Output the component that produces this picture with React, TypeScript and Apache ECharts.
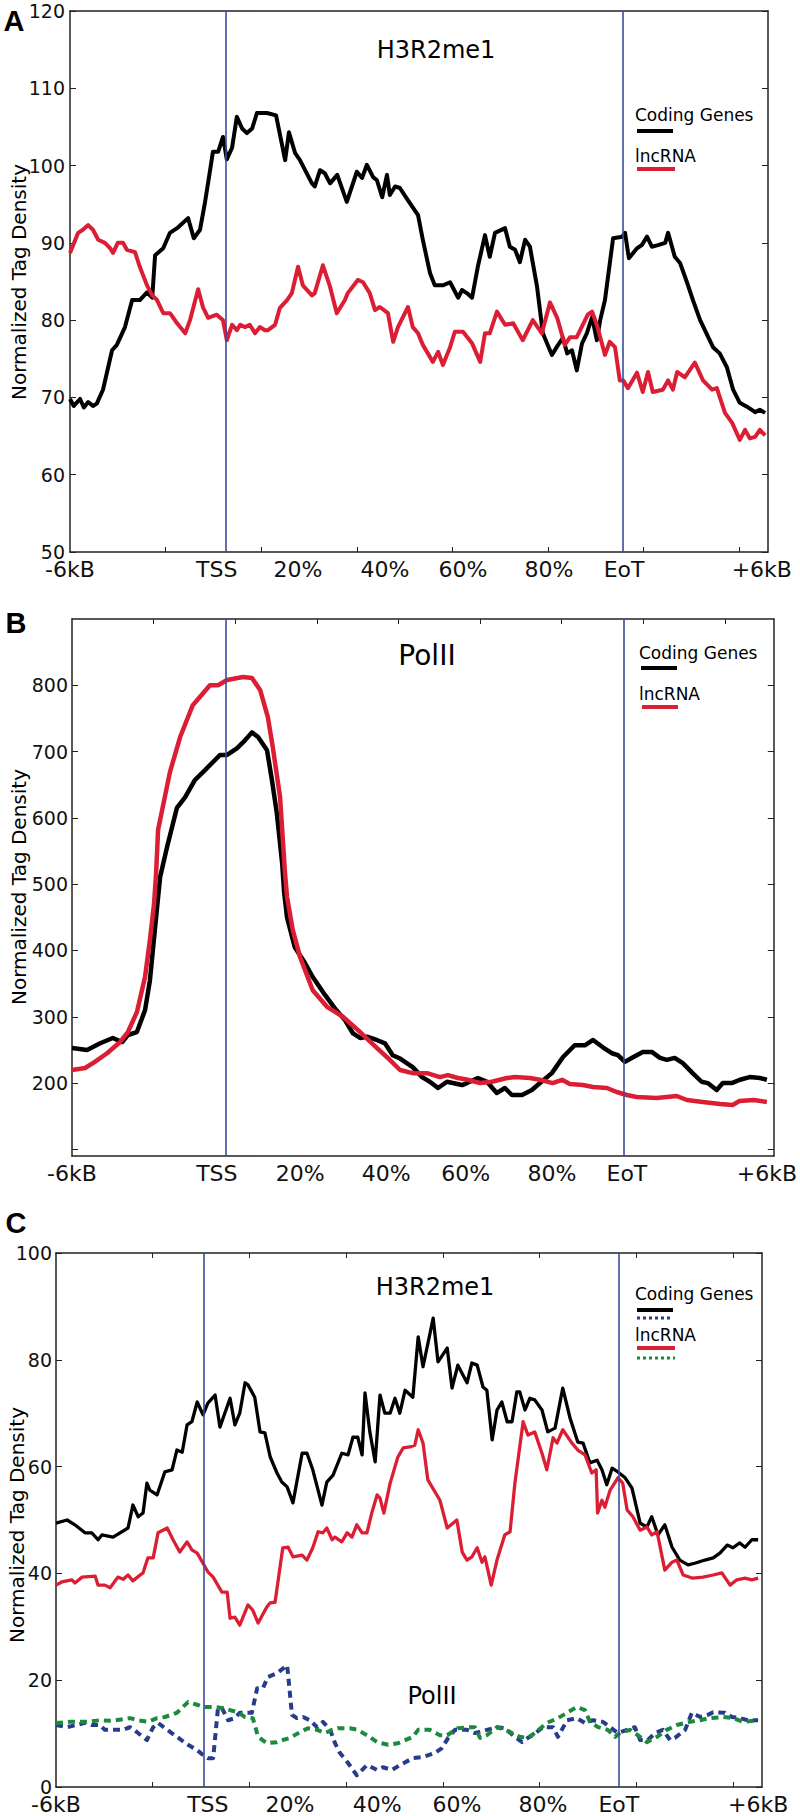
import React, { useEffect, useRef } from 'react';
import * as echarts from 'echarts';

// ---------- shared axis text ----------
const xLabelTexts = ['-6kB', 'TSS', '20%', '40%', '60%', '80%', 'EoT', '+6kB'];

// ---------- Panel A : H3R2me1 ----------
const aXMax = 146;
const aYMin = 50;
const aYMax = 120;
const aYTicks = [50, 60, 70, 80, 90, 100, 110, 120];
const aXTicks = [20, 40, 60, 80, 100, 120, 140];
const aLabelPos = [0, 30.7, 47.7, 65.9, 82.2, 100.2, 115.9, 144.7];
const aMarkers = [32.6, 115.7];
const aCoding = [
  [0, 69.8], [0.8, 68.9], [2.1, 69.8], [2.9, 68.7], [3.8, 69.4], [4.8, 68.9], [5.6, 69.2], [6.9, 71], [8.8, 76.1], [9.8, 76.8],
  [11.5, 79.1], [13.0, 82.6], [14.6, 82.6], [16.1, 83.6], [17.2, 82.9], [17.8, 88.4], [19.5, 89.3], [20.9, 91.3], [22.4, 91.9], [24.7, 93.2],
  [25.9, 90.6], [27.2, 91.7], [28.2, 95.1], [29.3, 99.4], [29.9, 101.8], [31.0, 101.8], [32.0, 103.7], [32.8, 100.8], [33.9, 102.3], [34.9, 106.3],
  [36.0, 104.8], [37.0, 104.2], [38.1, 104.8], [39.1, 106.8], [41.2, 106.8], [43.1, 106.5], [45.0, 100.7], [45.8, 104.3], [47.1, 101.6], [48.1, 100.7],
  [50.6, 97.7], [51.2, 97.3], [52.3, 99.4], [53.3, 99.0], [54.4, 97.7], [55.9, 98.8], [57.9, 95.3], [60.0, 99.2], [61.1, 98.4], [62.1, 100.1],
  [63.4, 98.5], [64.2, 98.1], [65.3, 95.9], [66.3, 98.8], [66.9, 96.2], [68.0, 97.3], [69.0, 97.1], [70.7, 95.5], [72.8, 93.6], [73.8, 90.4],
  [75.3, 86.1], [76.3, 84.5], [78.0, 84.5], [79.5, 84.9], [81.2, 82.9], [82.0, 83.9], [83.0, 83.5], [84.1, 82.9], [85.3, 86.9], [86.8, 91],
  [87.8, 88.2], [88.9, 91.3], [91.0, 91.9], [92.0, 89.5], [93.1, 89.1], [94.1, 87.5], [95.2, 90.4], [96.2, 89.5], [97.7, 84.3], [98.9, 78.3],
  [100.8, 75.5], [102.1, 76.8], [103.1, 77.7], [104.0, 75.7], [105.0, 76.1], [106.0, 73.5], [107.1, 77.0], [108.1, 78.3], [109.2, 80.4], [110.2, 77.4],
  [110.9, 80.0], [111.9, 82.6], [113.6, 90.6], [115.5, 90.8], [116.1, 91.3], [116.9, 88], [118.6, 89.3], [119.6, 89.7], [120.7, 90.8], [121.7, 89.5],
  [123.0, 89.7], [124.5, 90], [125.1, 91.3], [126.5, 88.2], [127.6, 87.4], [129.1, 84.8], [130.3, 82.6], [131.8, 80], [134.5, 76.5], [135.9, 75.7],
  [137.4, 73.9], [138.7, 71], [140.1, 69.3], [141.6, 68.8], [143.3, 68.1], [144.3, 68.4], [145.4, 68],
];
const aLnc = [
  [0, 88.7], [1.7, 91.3], [2.7, 91.7], [3.8, 92.3], [4.8, 91.7], [5.9, 90.4], [7.3, 90.0], [8.4, 89.3], [9.0, 88.7], [10.0, 90.0],
  [11.1, 90.0], [11.9, 89.1], [13.6, 88.8], [14.6, 86.9], [16.1, 84.5], [17.2, 83.2], [18.2, 82.6], [19.5, 80.9], [20.9, 80.9], [22.4, 79.6],
  [24.1, 78.3], [25.1, 80.0], [26.8, 84.0], [27.8, 81.7], [28.9, 80.3], [30.7, 80.7], [32.0, 80.0], [32.8, 77.4], [33.9, 79.4], [34.9, 78.7],
  [35.6, 79.4], [36.6, 79.1], [37.6, 79.4], [38.7, 78.3], [39.7, 79.1], [40.8, 78.7], [41.4, 78.7], [42.9, 79.4], [43.9, 81.6], [45.4, 82.6],
  [46.4, 83.5], [47.7, 86.9], [48.7, 84.5], [50.6, 83.2], [51.2, 83.5], [52.9, 87.1], [54.4, 84.3], [55.8, 80.9], [57.5, 82.6], [58.1, 83.5],
  [60.2, 85.2], [61.3, 84.9], [62.7, 83.5], [63.8, 81.3], [64.8, 81.7], [66.5, 80.9], [67.6, 77.2], [68.6, 79.1], [70.7, 81.7], [71.7, 79.1],
  [72.8, 78.3], [73.8, 76.8], [75.9, 74.6], [77.0, 75.9], [78.0, 74.2], [79.5, 76.5], [80.5, 78.5], [82.2, 78.5], [84.1, 77.0], [85.8, 74.6],
  [86.8, 78.3], [87.8, 78.3], [89.3, 81.1], [91.0, 79.4], [92.7, 79.6], [94.7, 77.4], [96.8, 80.0], [98.7, 78.3], [100.4, 82.3], [101.9, 80.3],
  [103.5, 76.8], [104.6, 77.8], [106.0, 77.8], [108.3, 80.7], [109.2, 81.1], [110.2, 79.4], [111.9, 75.5], [112.9, 77.2], [114.0, 76.5], [115.0, 72.2],
  [115.7, 72.2], [116.7, 71.2], [118.6, 73.2], [119.8, 70.7], [120.9, 73.3], [121.9, 70.7], [124.0, 71.0], [125.1, 72.2], [126.1, 71.0], [127.0, 73.3],
  [128.6, 72.6], [130.7, 74.5], [132.4, 72.2], [134.3, 71.0], [135.3, 71.2], [137.0, 68.0], [138.5, 66.7], [140.1, 64.5], [141.2, 65.8], [142.2, 64.7],
  [143.3, 64.9], [144.3, 65.8], [145.4, 65.1],
];

// ---------- Panel B : PolII ----------
const bXMax = 172;
const bYMin = 90;
const bYMax = 900;
const bYTicks = [100, 200, 300, 400, 500, 600, 700, 800];
const bYLabels = [200, 300, 400, 500, 600, 700, 800];
const bXTicks = [20, 40, 60, 80, 100, 120, 140, 160];
const bLabelPos = [0, 35.5, 55.9, 77.0, 96.5, 117.6, 136.0, 170.3];
const bMarkers = [37.7, 135.3];
const bCoding = [
  [0, 252.9], [3.7, 250], [6.9, 260], [10.0, 268], [12.3, 262], [13.7, 272.5], [15.9, 277], [17.9, 310], [19.1, 355], [20.3, 431],
  [21.6, 511], [23.3, 556], [25.7, 615], [27.7, 631], [30.1, 657], [32.6, 672], [34.5, 684], [36.3, 695], [38.0, 695], [40.4, 705],
  [42.4, 717], [44.1, 729], [45.6, 722], [47.8, 702], [49.0, 657], [50.2, 607], [51.5, 532], [52.0, 487], [52.7, 450], [54.6, 405],
  [57.1, 381], [59.0, 360], [62.0, 333], [64.4, 313], [66.9, 295], [68.8, 275.5], [70.6, 268], [72.3, 270], [74.7, 265], [76.7, 260],
  [78.6, 242], [80.4, 237], [83.5, 224], [85.8, 209], [87.7, 202], [89.7, 192.6], [91.9, 202], [95.6, 197], [96.8, 200], [99.5, 207.6],
  [101.7, 202], [104.1, 185], [106.1, 192.6], [107.8, 182], [110.3, 182], [112.7, 189.5], [114.7, 200], [117.6, 215], [120.3, 239], [123.2, 257],
  [125.7, 257], [127.7, 265], [130.1, 254], [132.3, 245], [133.8, 242], [135.5, 232], [137.5, 239], [139.9, 247], [142.1, 247], [144.1, 238],
  [145.8, 235], [147.7, 238], [149.7, 230], [152.1, 215], [154.3, 202], [155.8, 200], [158.0, 189.5], [159.5, 200], [161.7, 200], [163.7, 205],
  [166.1, 209], [168.6, 207.6], [170.3, 205],
];
const bLnc = [
  [0, 219.7], [3.2, 222.7], [5.6, 232], [8.6, 245], [11.8, 262], [13.7, 277], [15.9, 307], [17.9, 360], [19.1, 416], [20.1, 470],
  [20.6, 515], [21.1, 582], [22.1, 612], [24.0, 669], [26.5, 722], [29.6, 770], [33.8, 800], [35.8, 800], [38.0, 808], [41.9, 812.6],
  [44.1, 811], [46.1, 793], [48.0, 752], [49.2, 707], [51.0, 631], [52.2, 517], [52.7, 481], [54.1, 431], [55.9, 390], [59.0, 340],
  [62.5, 315], [66.4, 300], [70.6, 277], [74.7, 253], [77.2, 239], [80.4, 219.7], [83.5, 215], [87.0, 215], [90.2, 209], [92.1, 212],
  [94.6, 207.6], [97.0, 205], [100.0, 200], [102.9, 202], [106.6, 207.6], [108.5, 209], [112.2, 207.6], [114.7, 205], [117.8, 200], [120.1, 205],
  [122.0, 198.6], [125.2, 197], [127.7, 194], [131.1, 192.6], [133.5, 186.5], [136.0, 182], [138.4, 179], [143.3, 177.5], [148.2, 180.5], [150.7, 174.5],
  [154.6, 171.4], [158.8, 168.4], [161.9, 167], [163.6, 173], [167.1, 174.5], [170.3, 171.4],
];

// ---------- Panel C : H3R2me1 and PolII ----------
const cXMax = 146;
const cYMin = 0;
const cYMax = 100;
const cYTicks = [0, 20, 40, 60, 80, 100];
const cXTicks = [20, 40, 60, 80, 100, 120, 140];
const cLabelPos = [0, 31.4, 48.4, 66.4, 82.9, 100.7, 116.4, 145.2];
const cMarkers = [30.5, 116.3];
const cCoding = [
  [0, 49.4], [2.3, 50], [3.9, 49.1], [6.0, 47.6], [7.4, 47.6], [8.7, 46.3], [9.5, 47.2], [11.8, 46.8], [14.9, 48.5], [15.9, 52.8],
  [17.0, 50.6], [18.0, 51.3], [18.8, 56.9], [19.4, 55.6], [20.9, 54.7], [22.5, 59], [24.0, 59.4], [25.0, 63.1], [26.1, 62.7], [27.1, 67.8],
  [28.1, 68.4], [29.2, 72.1], [30.4, 69.7], [31.4, 71.9], [32.9, 73.4], [33.9, 67.4], [36.0, 72.8], [37.0, 67.8], [38.0, 70], [39.1, 75.7],
  [39.7, 75.3], [41.1, 73], [42.2, 66.5], [43.2, 66.3], [44.3, 61.8], [45.7, 58.8], [46.7, 57.1], [47.8, 56.2], [49.0, 53.2], [50.9, 62.5],
  [51.9, 62.5], [53.1, 59.4], [55.0, 52.8], [56.0, 57.1], [57.3, 58.4], [59.1, 62.5], [60.4, 62.2], [61.4, 65.5], [62.4, 65.5], [63.3, 62.2],
  [63.9, 73.8], [64.9, 66.5], [66.0, 60.9], [67.0, 73.4], [68.0, 70], [69.1, 70], [70.1, 72.8], [71.1, 70], [72.2, 74.3], [73.8, 73],
  [74.9, 84.3], [75.9, 78.7], [78.0, 87.8], [79.0, 79.6], [80.9, 82.2], [81.9, 74.7], [83.1, 79], [85.0, 75.7], [86.0, 79.4], [87.1, 79],
  [88.3, 74.9], [89.1, 74.3], [90.2, 65], [91.2, 70.6], [92.2, 72.1], [93.3, 68.4], [94.3, 68.4], [95.3, 74], [95.9, 74], [97.0, 70.6],
  [98.0, 72.8], [99.0, 72.5], [100.5, 70.6], [101.7, 66.5], [103.2, 67.2], [104.8, 74.7], [106.3, 69.1], [107.9, 64.6], [109.0, 64.4], [110.4, 60.7],
  [111.9, 61.2], [112.9, 59.4], [113.9, 56.6], [115.0, 59.7], [116.2, 59], [117.7, 57.9], [119.1, 56], [120.8, 49.4], [122.2, 48.7], [123.2, 50.6],
  [124.5, 47.2], [125.9, 49.1], [127.4, 44.9], [129.0, 42.5], [130.7, 41.6], [132.1, 41.9], [134.2, 42.5], [135.9, 42.9], [137.3, 43.8], [138.8, 45.3],
  [140.0, 44.8], [141.4, 45.7], [142.5, 44.9], [143.9, 46.3], [145.2, 46.3],
];
const cLnc = [
  [0, 37.8], [1.2, 38.4], [3.3, 38.8], [3.9, 38.2], [5.4, 39.3], [8.1, 39.5], [8.7, 37.8], [10.1, 37.8], [11.2, 37.3], [12.8, 39.3],
  [13.9, 38.9], [14.9, 39.7], [15.9, 38.6], [17.4, 39.7], [18.0, 40.1], [19.0, 42.9], [20.1, 42.9], [21.1, 47.6], [23.0, 48.5], [24.2, 46.3],
  [25.6, 44], [27.1, 45.9], [28.1, 44.4], [29.2, 43.8], [30.4, 41.9], [31.4, 40.3], [32.5, 39.3], [34.3, 36.5], [35.4, 36.5], [36.0, 31.6],
  [37.0, 31.8], [38.0, 30.3], [39.7, 34.1], [40.7, 33.1], [41.8, 30.7], [43.6, 33.7], [44.3, 34.5], [45.3, 34.6], [46.9, 44.8], [48.0, 44.9],
  [49.0, 43.1], [50.9, 43.4], [51.9, 42.5], [53.1, 44.8], [54.2, 47.8], [55.2, 47.6], [56.0, 48.5], [57.1, 46.3], [57.7, 46.8], [59.1, 45.9],
  [60.2, 47.6], [61.2, 46.8], [62.2, 49.1], [63.3, 47.6], [64.3, 47.6], [65.3, 51.3], [66.4, 54.7], [67.0, 54.1], [67.8, 51.3], [69.1, 56.9],
  [70.7, 61.8], [71.8, 63.5], [73.2, 63.7], [74.2, 64], [74.9, 66.9], [75.9, 64.4], [76.9, 57.5], [79.4, 53.7], [80.9, 48.5], [82.9, 50],
  [84.0, 44], [85.0, 42.5], [86.0, 43.1], [87.1, 44.8], [88.1, 42.1], [88.7, 43.1], [90.0, 37.8], [91.2, 42.5], [92.8, 47.2], [93.9, 47.8],
  [94.9, 56.9], [96.6, 68.4], [97.6, 65.9], [99.0, 66.5], [100.5, 62.5], [101.5, 59.4], [102.8, 65.4], [103.6, 64.4], [104.8, 66.9], [106.7, 64.4],
  [107.9, 63.1], [109.4, 62.2], [110.8, 58.8], [111.7, 59.4], [112.0, 51.3], [112.9, 53.7], [113.5, 52.4], [114.6, 55.6], [116.2, 57.9], [117.2, 56.9],
  [118.1, 51.9], [119.3, 50.6], [120.8, 48.1], [122.2, 48.7], [123.2, 47.2], [124.3, 47.8], [125.9, 40.6], [127.4, 42.1], [128.4, 42.5], [129.7, 39.7],
  [131.7, 39.1], [133.8, 39.3], [135.9, 39.7], [137.7, 40.1], [139.4, 37.8], [140.8, 38.8], [142.5, 39.1], [143.9, 38.8], [145.2, 39.1],
];
const cCodingPol = [
  [0, 11.6], [2.3, 11.2], [6.0, 12], [7.4, 11.6], [9.1, 11.6], [10.1, 10.7], [12.2, 10.7], [13.9, 10.7], [15.3, 11.2], [16.7, 10.3],
  [18.8, 8.8], [20.1, 11.2], [21.1, 12], [23.0, 10.7], [25.0, 9.4], [27.3, 7.9], [29.2, 6.9], [30.4, 6], [31.4, 5.4], [32.5, 5.4],
  [33.5, 14.8], [34.3, 14.8], [35.6, 12.5], [37.0, 12.9], [38.0, 13.9], [40.5, 13.9], [41.6, 18.5], [42.8, 18.5], [43.8, 20.6], [45.7, 21.3],
  [47.8, 22.8], [48.0, 21], [48.8, 13.5], [49.8, 12.9], [51.1, 13.1], [52.5, 12.5], [54.0, 11.2], [55.2, 12.2], [56.7, 10.7], [57.7, 8.2],
  [58.7, 6.4], [60.4, 4.5], [62.2, 2.2], [64.3, 4.1], [66.4, 3.2], [67.6, 3.7], [69.5, 3.2], [71.1, 4.1], [73.8, 5.4], [75.9, 5.6],
  [78.4, 6.4], [79.8, 7.3], [81.1, 9.2], [82.5, 10.7], [85.0, 10.7], [86.6, 10.1], [89.1, 10.7], [91.2, 11.2], [92.8, 11], [94.9, 9.4],
  [96.4, 8.4], [97.6, 9.2], [98.6, 9.7], [100.7, 11.2], [102.8, 11.2], [103.8, 9.4], [105.7, 12.5], [107.7, 12.9], [109.4, 12], [111.0, 12.5],
  [113.1, 12.2], [114.6, 11.2], [116.2, 10.1], [118.1, 10.7], [119.7, 11.2], [120.8, 8.8], [122.4, 8.8], [123.9, 10.1], [125.5, 10.7], [127.0, 8.8],
  [128.0, 9.2], [130.1, 10.7], [131.5, 13.9], [133.2, 13.1], [134.8, 13.5], [135.9, 14], [138.3, 13.9], [139.8, 13.1], [141.4, 12.9], [143.1, 12.5],
  [145.2, 12.5],
];
const cLncPol = [
  [0, 12], [2.9, 12.2], [6.4, 12.2], [9.1, 12.5], [11.8, 12.4], [15.3, 12.9], [17.0, 12.5], [19.0, 12.2], [20.9, 12.9], [22.5, 13.1],
  [25.0, 13.9], [27.3, 15.9], [29.2, 15.4], [30.4, 15], [32.5, 15], [34.3, 14.8], [36.0, 14.4], [37.6, 14], [39.1, 13.1], [40.7, 12.9],
  [41.8, 9.4], [43.6, 8.2], [45.7, 8.4], [46.9, 8.8], [48.4, 9.2], [50.5, 10.3], [52.1, 11], [54.0, 10.7], [55.6, 10.1], [57.1, 10.7],
  [58.3, 11], [60.8, 11], [62.4, 10.7], [64.3, 9.7], [66.4, 8.4], [68.7, 7.9], [70.7, 8.2], [73.8, 9.4], [74.9, 10.7], [77.3, 10.7],
  [79.4, 9.7], [80.9, 9.7], [83.1, 11], [85.6, 11.2], [86.6, 11.2], [87.7, 9.2], [89.1, 9.7], [91.2, 11.2], [93.9, 10.3], [95.9, 9.4],
  [97.6, 9.2], [99.0, 10.1], [101.5, 12], [103.8, 12.9], [105.7, 13.9], [107.7, 15], [109.4, 14.4], [110.4, 12.2], [112.1, 11.2], [114.1, 10.7],
  [115.6, 9.4], [116.6, 10.1], [118.7, 10.7], [120.3, 9.7], [122.2, 8.4], [124.3, 9.4], [126.3, 10.7], [128.4, 11.6], [131.1, 12.2], [133.2, 12.5],
  [135.2, 12.9], [137.9, 13.1], [140.0, 12.9], [142.1, 12.2], [145.0, 12.5],
];

// ---------- styling ----------
const FONT = 'DejaVu Sans';
const AX = '#222';
const BLACK = '#000000';
const RED = '#dc1e34';
const NAVY = '#283c8c';
const GREEN = '#1b8a3c';
const MARK = '#3a4d9a';

const labelFor = (positions: number[]) => (v: number) => {
  const i = positions.findIndex((p) => Math.abs(p - v) < 1e-6);
  return i >= 0 ? xLabelTexts[i] : '';
};

function xAxes(gi: number, xMax: number, ticks: number[], labelPos: number[], bottomTicks: boolean, topTicks: boolean) {
  const line = { show: true, onZero: false, lineStyle: { color: AX, width: 1.5 } };
  return [
    {
      type: 'value', gridIndex: gi, min: 0, max: xMax, position: 'bottom',
      axisLine: line,
      axisTick: { show: bottomTicks, inside: true, length: 5, customValues: ticks, lineStyle: { color: AX, width: 1 } },
      axisLabel: {
        show: true, customValues: labelPos, formatter: labelFor(labelPos), margin: 6,
        fontSize: 22, fontFamily: FONT, color: '#111',
      },
      splitLine: { show: false },
    },
    {
      type: 'value', gridIndex: gi, min: 0, max: xMax, position: 'top',
      axisLine: line,
      axisTick: { show: topTicks, inside: true, length: 5, customValues: ticks, lineStyle: { color: AX, width: 1 } },
      axisLabel: { show: false },
      splitLine: { show: false },
    },
  ];
}

function yAxes(gi: number, min: number, max: number, ticks: number[], labels: number[], margin: number) {
  const line = { show: true, onZero: false, lineStyle: { color: AX, width: 1.5 } };
  return [
    {
      type: 'value', gridIndex: gi, min, max, position: 'left',
      axisLine: line,
      axisTick: { show: true, inside: true, length: 6, customValues: ticks, lineStyle: { color: AX, width: 1 } },
      axisLabel: { show: true, customValues: labels, margin, fontSize: 19, fontFamily: FONT, color: '#111' },
      splitLine: { show: false },
    },
    {
      type: 'value', gridIndex: gi, min, max, position: 'right',
      axisLine: line,
      axisTick: { show: true, inside: true, length: 6, customValues: ticks, lineStyle: { color: AX, width: 1 } },
      axisLabel: { show: false },
      splitLine: { show: false },
    },
  ];
}

function markerSeries(gi: number, positions: number[]) {
  return {
    type: 'line', xAxisIndex: gi * 2, yAxisIndex: gi * 2, data: [], silent: true, z: 1,
    markLine: {
      silent: true, symbol: 'none', animation: false, label: { show: false },
      lineStyle: { color: MARK, width: 1.6, type: 'solid' },
      data: positions.map((p) => ({ xAxis: p })),
    },
  };
}

function lineSeries(gi: number, name: string, data: number[][], color: string, width: number, dash?: number[]) {
  return {
    type: 'line', name, xAxisIndex: gi * 2, yAxisIndex: gi * 2, data, showSymbol: false, symbol: 'none',
    z: 3, silent: true,
    lineStyle: { color, width, type: dash ? dash : 'solid', cap: 'butt', join: 'round' },
  };
}

const txt = (text: string, x: number, y: number, size: number, align = 'left', extra: any = {}) => {
  const family = extra.fontFamily || FONT;
  const weight = extra.fontWeight || 'normal';
  const { fontFamily, fontWeight, ...rest } = extra;
  return {
    type: 'text', x, y, silent: true, ...rest,
    style: {
      text, fill: '#000',
      font: `${weight} ${size}px "${family}"`,
      fontSize: size, fontFamily: family, fontWeight: weight,
      textAlign: align, align, textVerticalAlign: 'middle', verticalAlign: 'middle',
    },
  };
};
const seg = (x1: number, y1: number, x2: number, y2: number, color: string, w: number, dash?: number[]) => ({
  type: 'line', silent: true, shape: { x1, y1, x2, y2 },
  style: { stroke: color, lineWidth: w, lineDash: dash || null },
});

export default function App() {
  const ref = useRef<HTMLDivElement>(null);
  useEffect(() => {
    document.body.style.margin = '0';
    const chart = echarts.init(ref.current as HTMLDivElement, null, { renderer: 'svg' });
    const option: any = {
      animation: false,
      backgroundColor: '#ffffff',
      grid: [
        { left: 70, top: 11, width: 698, height: 541 },
        { left: 72, top: 619, width: 702, height: 537 },
        { left: 56, top: 1253, width: 706, height: 534 },
      ],
      xAxis: [
        ...xAxes(0, aXMax, aXTicks, aLabelPos, true, false),
        ...xAxes(1, bXMax, bXTicks, bLabelPos, false, true),
        ...xAxes(2, cXMax, cXTicks, cLabelPos, true, true),
      ],
      yAxis: [
        ...yAxes(0, aYMin, aYMax, aYTicks, aYTicks, 5),
        ...yAxes(1, bYMin, bYMax, bYTicks, bYLabels, 4),
        ...yAxes(2, cYMin, cYMax, cYTicks, cYTicks, 4),
      ],
      series: [
        markerSeries(0, aMarkers),
        lineSeries(0, 'Coding Genes', aCoding, BLACK, 4),
        lineSeries(0, 'lncRNA', aLnc, RED, 4),
        markerSeries(1, bMarkers),
        lineSeries(1, 'Coding Genes', bCoding, BLACK, 4.5),
        lineSeries(1, 'lncRNA', bLnc, RED, 4.5),
        markerSeries(2, cMarkers),
        lineSeries(2, 'Coding Genes H3R2me1', cCoding, BLACK, 3.3),
        lineSeries(2, 'lncRNA H3R2me1', cLnc, RED, 3.3),
        lineSeries(2, 'Coding Genes PolII', cCodingPol, NAVY, 4, [7, 5]),
        lineSeries(2, 'lncRNA PolII', cLncPol, GREEN, 4, [7, 5]),
      ],
      graphic: {
        elements: [
          // panel letters
          txt('A', 14, 21, 29, 'center', { fontFamily: 'Liberation Sans', fontWeight: 'bold' }),
          txt('B', 16, 623, 29, 'center', { fontFamily: 'Liberation Sans', fontWeight: 'bold' }),
          txt('C', 16, 1223, 29, 'center', { fontFamily: 'Liberation Sans', fontWeight: 'bold' }),
          // titles
          txt('H3R2me1', 436, 50, 24, 'center'),
          txt('PolII', 427, 655, 28, 'center'),
          txt('H3R2me1', 435, 1287, 24, 'center'),
          txt('PolII', 432, 1696, 24, 'center'),
          // y-axis names
          txt('Normalized Tag Density', 19, 282, 20, 'center', { rotation: Math.PI / 2 }),
          txt('Normalized Tag Density', 19, 887, 20, 'center', { rotation: Math.PI / 2 }),
          txt('Normalized Tag Density', 17, 1525, 20, 'center', { rotation: Math.PI / 2 }),
          // legend A
          txt('Coding Genes', 635, 115, 17),
          seg(637, 131, 673, 131, BLACK, 4),
          txt('lncRNA', 635, 156, 17),
          seg(637, 169, 675, 169, RED, 4),
          // legend B
          txt('Coding Genes', 639, 653, 17),
          seg(641, 668, 677, 668, BLACK, 4),
          txt('lncRNA', 639, 694, 17),
          seg(642, 707, 678, 707, RED, 4),
          // legend C
          txt('Coding Genes', 635, 1294, 17),
          seg(637, 1310, 673, 1310, BLACK, 4),
          seg(637, 1318, 673, 1318, NAVY, 3, [3, 3]),
          txt('lncRNA', 635, 1335, 17),
          seg(637, 1348, 675, 1348, RED, 4),
          seg(637, 1358, 675, 1358, GREEN, 3, [3, 3]),
        ],
      },
    };
    chart.setOption(option);
    return () => chart.dispose();
  }, []);
  return <div ref={ref} style={{ position: 'absolute', left: 0, top: 0, width: 800, height: 1816 }} />;
}
